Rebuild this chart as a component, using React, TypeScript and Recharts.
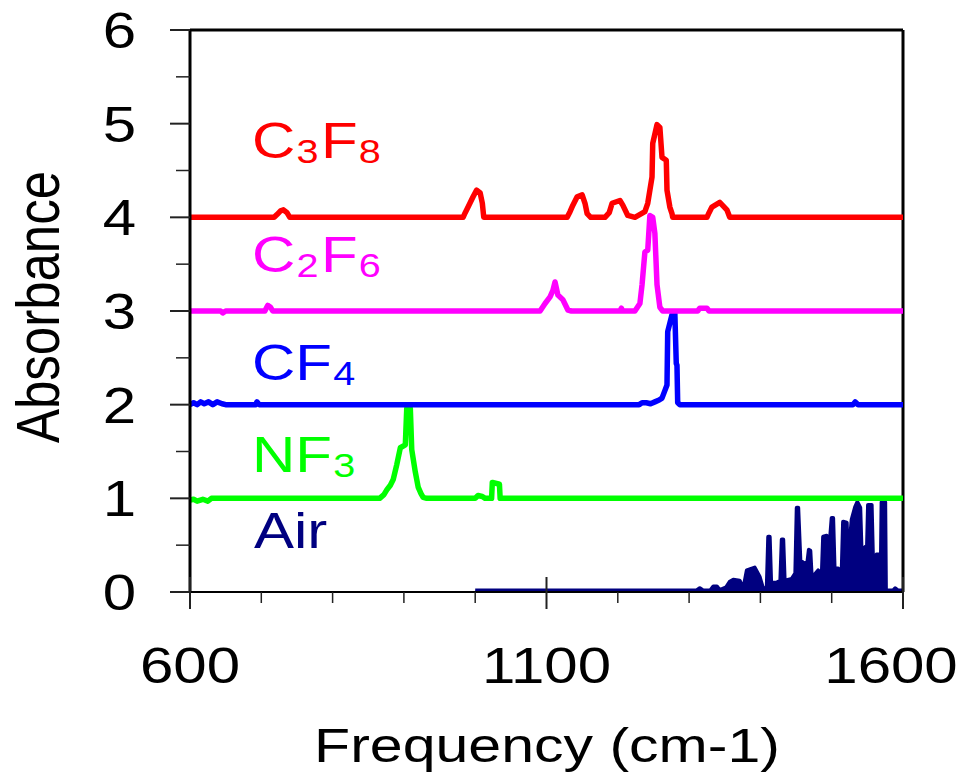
import React from "react";
import { ComposedChart, Line, Area, XAxis, YAxis, ReferenceLine } from "recharts";

const FONT = "'Liberation Sans', Arial, Helvetica, sans-serif";

// ---- data (frequency in cm-1, absorbance offset) ----
const c3f8Freq = [600, 718, 722, 727, 731, 736, 740, 983, 986, 990, 997, 1002, 1007, 1010, 1012, 1129, 1133, 1137, 1143, 1150, 1154, 1157, 1162, 1182, 1188, 1192, 1203, 1207, 1214, 1224, 1238, 1242, 1248, 1249, 1255, 1259, 1262, 1268, 1269, 1273, 1276, 1277, 1325, 1328, 1332, 1343, 1353, 1357, 1600];
const c3f8Abs = [4.0, 4.0, 4.03, 4.07, 4.08, 4.05, 4.0, 4.0, 4.05, 4.11, 4.22, 4.29, 4.26, 4.15, 4.0, 4.0, 4.06, 4.13, 4.22, 4.24, 4.15, 4.04, 4.0, 4.0, 4.05, 4.15, 4.18, 4.13, 4.02, 4.0, 4.06, 4.15, 4.43, 4.79, 4.99, 4.96, 4.64, 4.61, 4.29, 4.11, 4.04, 4.0, 4.0, 4.05, 4.11, 4.16, 4.08, 4.0, 4.0];

const c2f6Freq = [600, 643, 646, 650, 705, 709, 713, 716, 1091, 1098, 1105, 1109, 1112, 1116, 1123, 1130, 1135, 1203, 1205, 1207, 1224, 1231, 1234, 1238, 1242, 1245, 1249, 1252, 1255, 1259, 1263, 1312, 1315, 1325, 1328, 1600];
const c2f6Abs = [3.0, 3.0, 2.98, 3.0, 3.0, 3.06, 3.04, 3.0, 3.0, 3.08, 3.15, 3.22, 3.31, 3.17, 3.12, 3.01, 3.0, 3.0, 3.03, 3.0, 3.0, 3.08, 3.28, 3.63, 3.65, 4.02, 4.0, 3.83, 3.28, 3.04, 3.0, 3.0, 3.03, 3.03, 3.0, 3.0];

const cf4Freq = [600, 605, 610, 615, 620, 626, 632, 638, 645, 650, 692, 694, 697, 1230, 1234, 1240, 1246, 1252, 1258, 1262, 1266, 1269, 1270, 1276, 1280, 1282, 1283, 1284, 1287, 1530, 1533, 1537, 1600];
const cf4Abs = [2.0, 2.02, 2.0, 2.03, 2.01, 2.03, 2.0, 2.03, 2.01, 2.0, 2.0, 2.03, 2.0, 2.0, 2.02, 2.02, 2.01, 2.03, 2.05, 2.07, 2.15, 2.21, 2.78, 2.96, 2.98, 2.44, 2.42, 2.02, 2.0, 2.0, 2.03, 2.0, 2.0];

const nf3Freq = [600, 605, 610, 618, 625, 630, 866, 872, 876, 881, 885, 890, 895, 902, 904, 909, 911, 916, 920, 924, 927, 932, 1000, 1004, 1010, 1014, 1023, 1024, 1034, 1035, 1600];
const nf3Abs = [0.98, 0.99, 0.97, 0.99, 0.97, 1.0, 1.0, 1.04, 1.09, 1.14, 1.2, 1.36, 1.54, 1.57, 1.96, 1.96, 1.52, 1.28, 1.12, 1.05, 1.01, 1.0, 1.0, 1.03, 1.02, 1.0, 1.0, 1.17, 1.15, 1.0, 1.0];

const airFreq = [1000, 1310, 1315, 1320, 1330, 1334, 1339, 1343, 1352, 1357, 1362, 1371, 1376, 1381, 1388, 1392, 1399, 1404, 1409, 1411, 1413, 1415, 1423, 1428, 1430, 1432, 1434, 1444, 1449, 1451, 1453, 1456, 1462, 1466, 1468, 1470, 1472, 1481, 1486, 1488, 1493, 1495, 1500, 1502, 1504, 1509, 1514, 1516, 1521, 1523, 1528, 1533, 1536, 1540, 1542, 1547, 1549, 1551, 1556, 1558, 1563, 1566, 1569, 1570, 1575, 1576, 1586, 1589, 1593, 1600];
const airAbs = [0.015, 0.015, 0.04, 0.015, 0.02, 0.06, 0.06, 0.02, 0.05, 0.11, 0.13, 0.12, 0.03, 0.23, 0.25, 0.26, 0.16, 0.03, 0.05, 0.59, 0.59, 0.1, 0.1, 0.12, 0.56, 0.56, 0.12, 0.14, 0.2, 0.9, 0.9, 0.34, 0.3, 0.32, 0.45, 0.44, 0.15, 0.23, 0.15, 0.59, 0.6, 0.3, 0.79, 0.79, 0.25, 0.25, 0.2, 0.75, 0.74, 0.3, 0.77, 0.91, 0.96, 0.9, 0.4, 0.48, 0.3, 0.93, 0.93, 0.3, 0.4, 0.4, 0.3, 0.96, 0.96, 0.015, 0.015, 0.04, 0.015, 0.015];

const xTicks = [600, 700, 800, 900, 1000, 1100, 1200, 1300, 1400, 1500, 1600];
const xMajor = [600, 1100, 1600];
const yTicks = [0, 0.5, 1, 1.5, 2, 2.5, 3, 3.5, 4, 4.5, 5, 5.5, 6];

const zip = (xs: number[], ys: number[]) => xs.map((x, i) => ({ x, y: ys[i] }));
const c3f8Data = zip(c3f8Freq, c3f8Abs);
const c2f6Data = zip(c2f6Freq, c2f6Abs);
const cf4Data = zip(cf4Freq, cf4Abs);
const nf3Data = zip(nf3Freq, nf3Abs);
const airData = zip(airFreq, airAbs);

const XTick = (props: any) => {
  const { x, y, payload } = props;
  const v = payload.value;
  const major = xMajor.includes(v);
  const dx = v === 1600 ? -12 : 0;
  return (
    <g>
      <line x1={x} x2={x} y1={major ? y - 15 : y} y2={y + (major ? 17 : 11)} stroke="#222" strokeWidth={major ? 2 : 1.5} />
      {major && (
        <text transform={`translate(${x + dx},${y + 91}) scale(1.2,1)`} textAnchor="middle" fontSize={50} fontFamily={FONT} fill="#000">
          {v}
        </text>
      )}
    </g>
  );
};

const YTick = (props: any) => {
  const { x, y, payload } = props;
  const v = payload.value;
  const major = Number.isInteger(v);
  return (
    <g>
      <line x1={x - (major ? 20 : 14)} x2={x} y1={y} y2={y} stroke="#222" strokeWidth={major ? 2 : 1.5} />
      {major && (
        <text transform={`translate(${x - 54},${y + 18}) scale(1.2,1)`} textAnchor="end" fontSize={50} fontFamily={FONT} fill="#000">
          {v}
        </text>
      )}
    </g>
  );
};

const SeriesLabel = ({ x, y, color, parts }: { x: number; y: number; color: string; parts: [string, boolean][] }) => (
  <text transform={`translate(${x},${y}) scale(1.2,1)`} fontSize={50} fontFamily={FONT} fill={color}>
    {parts.map(([t, sub], i) => (
      <tspan key={i} fontSize={sub ? 33 : 50} dx={sub ? 1 : i > 0 ? 2 : 0} dy={sub ? 5 : i > 0 ? -5 : 0}>
        {t}
      </tspan>
    ))}
  </text>
);

export default function App() {
  return (
    <div style={{ position: "absolute", left: 0, top: 0, width: 973, height: 775, background: "#fff" }}>
      <ComposedChart width={973} height={775} margin={{ top: 30, right: 70, left: 0, bottom: 0 }}>
        <XAxis
          type="number"
          dataKey="x"
          domain={[600, 1600]}
          ticks={xTicks}
          allowDataOverflow
          height={183}
          tickSize={0}
          tickMargin={0}
          tickLine={false}
          axisLine={{ stroke: "#000", strokeWidth: 2 }}
          tick={XTick}
          interval={0}
        />
        <YAxis
          type="number"
          dataKey="y"
          domain={[0, 6]}
          ticks={yTicks}
          allowDataOverflow
          width={190}
          tickSize={0}
          tickMargin={0}
          tickLine={false}
          axisLine={{ stroke: "#000", strokeWidth: 3 }}
          tick={YTick}
          interval={0}
        />
        <ReferenceLine y={6} stroke="#000" strokeWidth={3} />
        <ReferenceLine x={1600} stroke="#000" strokeWidth={3} />
        <Area data={airData} dataKey="y" type="linear" stroke="#000080" strokeWidth={4} strokeLinejoin="round" fill="#000080" fillOpacity={1} isAnimationActive={false} dot={false} activeDot={false} />
        <Line data={nf3Data} dataKey="y" type="linear" stroke="#00FF00" strokeWidth={5.5} dot={false} activeDot={false} isAnimationActive={false} strokeLinejoin="round" strokeLinecap="round" />
        <Line data={cf4Data} dataKey="y" type="linear" stroke="#0000FF" strokeWidth={5.5} dot={false} activeDot={false} isAnimationActive={false} strokeLinejoin="round" strokeLinecap="round" />
        <Line data={c2f6Data} dataKey="y" type="linear" stroke="#FF00FF" strokeWidth={5.5} dot={false} activeDot={false} isAnimationActive={false} strokeLinejoin="round" strokeLinecap="round" />
        <Line data={c3f8Data} dataKey="y" type="linear" stroke="#FF0000" strokeWidth={5.5} dot={false} activeDot={false} isAnimationActive={false} strokeLinejoin="round" strokeLinecap="round" />
        <SeriesLabel x={252} y={158} color="#FF0000" parts={[["C", false], ["3", true], ["F", false], ["8", true]]} />
        <SeriesLabel x={252} y={272} color="#FF00FF" parts={[["C", false], ["2", true], ["F", false], ["6", true]]} />
        <SeriesLabel x={252} y={380} color="#0000FF" parts={[["CF", false], ["4", true]]} />
        <SeriesLabel x={252} y={472} color="#00FF00" parts={[["NF", false], ["3", true]]} />
        <SeriesLabel x={254} y={548} color="#000080" parts={[["Air", false]]} />
        <text transform="translate(59,307) scale(1.2,1) rotate(-90)" textAnchor="middle" fontSize={51} fontFamily={FONT} fill="#000">
          Absorbance
        </text>
        <text transform="translate(547,762) scale(1.23,1)" textAnchor="middle" fontSize={48} fontFamily={FONT} fill="#000">
          Frequency (cm-1)
        </text>
      </ComposedChart>
    </div>
  );
}
